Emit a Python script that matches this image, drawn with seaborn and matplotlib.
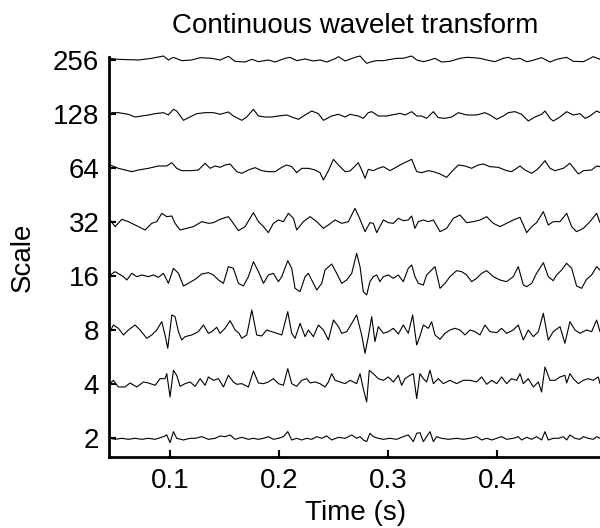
import numpy as np
import pandas as pd
import seaborn as sns
import matplotlib.pyplot as plt

# traces: time in ms, amplitude in arbitrary units
t_s256 = [44.1, 52.6, 71.0, 83.2, 93.9, 98.5, 103.1, 110.7, 119.9, 127.6, 138.3, 145.9, 153.5, 159.7, 168.8, 175.0, 181.1, 190.2, 196.4, 205.5,
          210.1, 216.2, 223.9, 231.5, 237.6, 243.8, 251.4, 254.5, 260.6,
          269.7, 274.3, 280.4, 285.0, 289.6, 295.7, 307.9, 314.0, 321.7, 326.3, 332.4, 338.5, 343.1, 349.2, 356.8, 366.0, 372.1, 378.2, 384.4, 390.5,
          398.1, 405.8, 410.4, 414.9, 421.1, 427.2, 431.8, 440.9, 448.6, 454.7, 463.9, 470.0, 479.2, 483.7, 488.3, 494.5]
a_s256 = [5, 2, 0, 5, 12, 0, 8, -2, 0, 7, 5, 0, 11, -4, -6, 2, -5, 0, -6, 5,
          8, -2, 3, -3, 0, -6, 4, 10, -3,
          8, 12, -10, -5, -2, -2, 5, 5, 12, 0, -5, 0, 5, -6, -4, 5, 8, 7, 5, 0,
          -5, 5, 8, 2, 5, -5, -2, 7, -6, 2, 8, -4, -5, 2, 10, 2]

t_s128 = [46.5, 52.6, 61.8, 67.9, 74.0, 80.2, 86.3, 93.9, 98.5, 103.1, 106.1, 112.3, 116.9, 124.5, 132.1, 139.8, 145.9, 153.5, 158.1, 165.8,
          170.4, 176.5, 181.1, 187.2, 193.3, 199.4, 207.1, 211.6, 217.8, 223.9, 230.0, 236.1, 240.7, 248.3, 254.5, 260.6, 265.2,
          272.7, 277.3, 281.9, 285.0, 291.1, 298.7, 306.4, 311.0, 315.6, 321.7, 326.3, 330.8, 335.4, 341.6, 346.1, 352.3, 358.4, 364.5, 372.1, 381.3,
          388.9, 393.5, 399.7, 405.8, 410.4, 416.5, 422.6, 428.7, 434.8, 440.9, 444.0, 448.6, 451.6, 457.8, 463.9, 470.0, 476.1, 480.7, 485.3, 491.4,
          494.5]
a_s128 = [4, 4, -1, -9, -6, -3, 1, 4, -3, 14, 9, -19, -11, 1, 4, 4, -1, 6, -6, -19,
          -9, 14, -6, -9, -9, -6, -3, -9, -16, -3, 9, 1, -19, -6, -1, -9, -1,
          -6, -13, 4, 7, -6, -6, -1, 2, -3, 7, -6, -6, -13, 7, -11, -13, -9, 4, -3, -3,
          4, -3, -16, -6, 4, 7, -1, -21, -9, -1, 9, -13, -21, -9, 7, -3, 1, -13, -6, 9,
          4]

t_s64 = [45.0, 52.6, 58.7, 64.9, 71.0, 80.2, 89.3, 97.0, 101.6, 106.1, 110.7, 119.9, 126.0, 132.1, 136.7, 141.3, 145.9, 150.5, 155.1, 161.2,
         165.8, 171.9, 178.0, 184.1, 190.2, 196.4, 202.5, 207.1, 211.6, 216.2, 220.8, 226.9, 233.1, 237.6, 240.7, 245.3, 249.9, 254.5, 260.6, 265.2,
         272.7, 275.8, 278.9, 281.9, 286.5, 291.1, 295.7, 301.8, 311.0, 314.0, 321.7, 326.3, 330.8, 337.0, 341.6, 347.7, 353.8, 358.4, 364.5, 370.6,
         376.7, 382.8, 387.4, 393.5, 401.2, 408.8, 413.4, 418.0, 421.1, 425.6, 431.8, 436.3, 439.4, 444.0, 448.6, 453.2, 460.8, 466.9, 474.6, 479.2,
         486.8, 491.4, 494.5]
a_s64 = [9, -1, -6, -11, -6, -1, 6, 6, 16, -1, -8, -8, -6, 14, -1, 6, 2, 9, 12, -11,
         -16, -6, 1, -8, -11, -11, 2, 9, 4, -14, -1, -1, -6, -14, -36, -8, 26, 9, -11, -9,
         16, -6, -31, -4, -8, -1, 4, -8, 9, 14, 26, -11, -14, -8, -11, -18, -28, -11, 9, 6,
         -1, 9, 12, 4, 2, -8, -11, -1, 6, -6, -16, -6, 4, 22, -1, -8, -1, 14, -18, -8,
         -6, 6, 4]

t_s32 = [45.0, 49.6, 55.7, 61.8, 71.0, 77.1, 83.2, 87.8, 92.4, 97.0, 101.6, 104.6, 109.2, 115.3, 121.4, 129.1, 135.2, 139.8, 145.9, 153.5,
         158.1, 162.7, 168.8, 176.5, 181.1, 185.7, 190.2, 194.8, 199.4, 204.0, 208.6, 213.2, 216.2, 222.3, 228.5, 234.6, 240.7, 245.3, 251.4, 257.5,
         263.6,
         269.7, 274.3, 278.9, 283.4, 286.5, 289.6, 295.7, 300.3, 304.9, 309.4, 314.0, 318.6, 321.7, 324.7, 327.8, 332.4, 337.0, 341.6, 347.7, 353.8,
         359.9, 366.0, 372.1, 378.2, 384.4, 390.5, 396.6, 402.7, 408.8, 414.9, 421.1, 427.2, 431.8, 436.3, 442.5, 447.0, 451.6, 457.8, 463.9, 468.5,
         473.0, 479.2, 485.3, 491.4, 494.5]
a_s32 = [6, -14, 8, 1, -14, -24, -4, 1, 26, 16, 18, -4, -24, -19, -14, 1, -4, -2, 8, 16,
         -4, -26, -14, 28, 1, -14, -32, -4, 6, 1, 26, 11, -24, 1, 16, 1, -19, -9, 6, -4,
         1,
         41, 8, -29, -2, -4, -32, 6, -2, -4, 11, 4, 6, 18, -19, 1, 6, 1, 6, -29, -19,
         11, 21, -2, 1, 6, 16, -4, -14, -4, 6, 14, -32, -14, -2, 31, -9, 1, 1, 26, -14,
         -29, -19, 1, 26, -2]

t_s16 = [45.0, 49.6, 57.2, 60.3, 64.9, 69.5, 74.0, 80.2, 84.7, 89.3, 93.9, 98.5, 103.1, 107.7, 112.3, 116.9, 123.0, 129.1, 135.2, 139.8,
         144.4, 149.0, 153.5, 158.1, 162.7, 167.3, 171.9, 176.5, 181.1, 185.7, 190.2, 194.8, 199.4, 202.5, 208.0, 211.6, 214.7, 219.3, 223.9, 226.9,
         231.5, 234.6, 239.2, 242.2, 248.3, 252.9, 257.5, 262.1, 266.7,
         271.2, 274.3, 277.3, 280.4, 283.4, 286.5, 289.6, 292.6, 295.7, 300.3, 304.9, 309.4, 314.0, 318.6, 321.7, 324.7, 327.8, 332.4, 335.4, 340.0,
         343.1, 347.7, 352.3, 356.8, 363.0, 367.5, 372.1, 376.7, 381.3, 385.9, 390.5, 396.6, 402.7, 408.8, 414.9, 419.5, 424.1, 427.2, 431.8, 436.3,
         442.5, 447.0, 451.6, 454.7, 459.3, 463.9, 468.5, 473.0, 477.6, 482.2, 486.8, 491.4, 494.5]
a_s16 = [3, 13, -2, -12, 8, -2, 3, -2, 3, -4, 8, -22, 23, 8, -30, -22, -10, 6, 10, 3,
         -12, -22, 28, 23, -22, -30, -2, 43, 13, -22, 3, 8, -17, -2, 46, 23, -37, -47, -2, 8,
         -22, -42, -22, 18, 36, 8, -22, -12, 8,
         68, 28, -47, -57, -17, -2, 3, -17, -2, 3, -7, 3, -17, 23, 33, -2, -22, -27, 3, 18,
         28, -37, -22, -2, 16, 13, 3, -17, -7, 8, 16, -2, -12, -17, -2, 28, -27, -32, -22, 8,
         40, -2, -14, 3, 18, 38, 23, -30, -37, -10, 3, 28, 18]

t_s8 = [45.0, 48.0, 52.6, 57.2, 61.8, 67.9, 72.5, 78.6, 83.2, 87.8, 92.4, 95.4, 97.9, 101.6, 104.6, 107.7, 110.7, 113.8, 119.9, 126.0,
        130.6, 135.2, 138.3, 142.8, 145.9, 150.5, 155.1, 159.7, 163.3, 165.8, 170.4, 175.0, 179.5, 184.1, 188.7, 193.3, 197.9, 202.5, 208.0, 211.6,
        214.7, 219.3, 223.9, 226.9, 231.5, 236.1, 240.7, 245.3, 249.9, 254.5, 257.5, 262.1, 266.7,
        271.2, 275.8, 278.9, 281.9, 285.0, 288.0, 291.1, 295.7, 300.3, 304.9, 309.4, 314.0, 318.6, 322.6, 326.3, 329.3, 332.4, 337.0, 340.0, 343.1,
        347.7, 352.3, 356.8, 361.4, 366.0, 370.6, 375.2, 379.8, 384.4, 388.9, 393.5, 399.7, 404.2, 408.8, 414.9, 419.5, 424.1, 428.7, 433.3, 437.9,
        442.5, 447.0, 451.6, 457.8, 462.3, 466.9, 471.5, 476.1, 482.2, 486.8, 491.4, 494.5]
a_s8 = [-5, 15, 5, -15, 0, 15, 0, -25, -15, 0, 25, -15, -55, 45, 40, -5, -30, -20, -15, -5,
        15, -10, -5, 8, -10, 5, 28, 0, -10, -25, -15, 60, -15, -18, 0, -5, -10, -15, 55, -10,
        -25, 20, -20, 0, -20, 15, 0, -30, 30, 10, -10, -5, 20,
        45, -15, -70, -20, 40, -35, 10, -10, -5, 5, -12, 15, -10, 45, -45, -18, 15, 5, 25, -15,
        -28, -10, 0, 5, 0, -15, 0, -5, -15, 15, -5, -8, 5, -10, 0, 15, -30, 0, -20, -5,
        50, -30, -5, 10, -40, 25, 0, -10, 0, -5, 30, -5]

t_s4 = [45.0, 48.0, 52.6, 58.7, 63.3, 69.5, 75.6, 80.2, 86.3, 90.9, 95.4, 97.0, 100.0, 103.1, 106.1, 109.2, 113.8, 118.4, 123.0, 127.6,
        132.1, 135.2, 139.8, 144.4, 149.0, 153.5, 158.1, 161.2, 165.8, 171.9, 176.5, 181.1, 185.7, 190.2, 194.8, 199.4, 204.0, 208.0, 211.6, 216.2,
        220.8, 225.4, 228.5, 233.1, 237.6, 242.2, 245.3, 248.3, 251.4, 256.0, 260.6, 265.2,
        271.2, 274.3, 277.3, 280.4, 282.8, 286.5, 291.1, 295.7, 300.3, 304.9, 309.4, 312.5, 315.6, 320.1, 323.2, 326.3, 329.3, 332.4, 335.4, 338.5,
        341.6, 346.1, 350.7, 356.8, 363.0, 369.1, 375.2, 381.3, 385.9, 390.5, 395.1, 399.7, 404.2, 408.8, 413.4, 418.0, 421.1, 424.1, 428.7, 433.3,
        437.9, 440.9, 444.0, 448.6, 453.2, 457.8, 462.3, 463.9, 466.9, 470.0, 474.6, 479.2, 483.7, 488.3, 492.9, 494.5]
a_s4 = [1, 11, -9, -9, 3, -9, 6, 3, -4, 16, 16, 31, -39, 41, 26, -7, 1, 6, -7, 16,
        -4, 21, 11, 16, -9, 26, 6, -1, 1, -9, 39, 3, 1, 6, 16, 1, -4, 46, 1, -7,
        11, 16, 3, 6, 1, -9, 6, 31, 11, 6, 1, 11,
        1, 31, -14, -54, 41, 31, 16, 11, 21, 6, 26, -4, 16, 26, 31, -44, 31, 16, 6, 41,
        1, 16, 1, 11, 1, 11, 11, 6, 21, -1, 11, 1, 21, 1, 16, 11, 31, 1, 16, -9,
        6, -24, 51, 11, 11, 21, 26, 3, 31, 16, 1, 11, 16, 11, 21, 1]

t_s2 = [45.0, 49.6, 55.7, 61.8, 67.9, 74.0, 80.2, 86.3, 93.9, 97.0, 100.0, 103.1, 106.1, 112.3, 118.4, 123.0, 129.1, 135.2, 141.3, 145.9,
        150.5, 155.1, 159.7, 165.8, 171.9, 176.5, 181.1, 185.7, 190.2, 194.8, 199.4, 204.0, 208.0, 211.6, 216.2, 220.8, 225.4, 230.0, 234.6, 239.2,
        243.8, 248.3, 254.5, 260.6, 266.7,
        271.2, 274.3, 277.3, 280.4, 283.4, 286.5, 291.1, 295.7, 301.8, 307.9, 314.0, 318.6, 323.2, 326.3, 329.3, 332.4, 335.4, 338.5, 341.6, 344.6,
        349.2, 355.3, 363.0, 369.1, 375.2, 381.3, 385.9, 390.5, 395.1, 399.7, 404.2, 408.8, 414.9, 419.5, 422.6, 427.2, 431.8, 436.3, 440.9, 444.0,
        447.0, 451.6, 456.3, 460.8, 463.9, 466.9, 471.5, 476.1, 479.2, 483.7, 488.3, 491.4, 494.5]
a_s2 = [-1, -4, -1, -4, -1, -4, -1, -4, 4, 9, -14, 19, -1, -6, -1, -1, 4, -4, -1, 6,
        4, 9, -4, 2, -4, -1, -4, -1, 4, -4, -1, 4, 19, -6, -1, -6, -1, -4, 4, -1,
        6, -6, 2, -1, 9,
        -1, 4, -6, -11, 14, 4, -1, -4, -1, -4, 4, 9, -11, 14, 16, -11, 4, 19, -11, 4,
        -1, -4, -1, -4, -1, 4, -6, -1, -6, -1, 4, -4, -1, 4, -6, 2, -4, 4, -6, 19,
        -6, -1, -1, 4, -6, 9, -1, -4, 4, -1, -4, 4, -1]

scales = [2, 4, 8, 16, 32, 64, 128, 256]
times = [t_s2, t_s4, t_s8, t_s16, t_s32, t_s64, t_s128, t_s256]
amps = [a_s2, a_s4, a_s8, a_s16, a_s32, a_s64, a_s128, a_s256]

gain = 1 / 162.0

frames = []
for sc, t, a in zip(scales, times, amps):
    frames.append(pd.DataFrame({
        'time': np.array(t) / 1000.0,
        'level': np.log2(sc) + np.array(a) * gain,
        'scale': sc,
    }))
df = pd.concat(frames, ignore_index=True)

sns.set_style('ticks')
plt.rcParams['font.family'] = ['Liberation Sans', 'DejaVu Sans']
plt.rcParams['text.color'] = 'black'
plt.rcParams['axes.labelcolor'] = 'black'

fig = plt.figure(figsize=(6, 5.28), dpi=100)
ax = fig.add_axes([0.1817, 0.1345, 0.8216, 0.7576])

sns.lineplot(data=df, x='time', y='level', units='scale', estimator=None,
             sort=False, color='black', linewidth=0.8, legend=False, ax=ax)
for line in ax.lines:
    line.set_clip_on(False)
    line.set_solid_joinstyle('round')

ax.set_xlim(0.044, 0.4963)
ax.set_ylim(0.648, 8.056)
ax.set_xticks([0.1, 0.2, 0.3, 0.4])
ax.set_xticklabels(['0.1', '0.2', '0.3', '0.4'])
ax.set_yticks(np.log2(scales))
ax.set_yticklabels([str(s) for s in scales])
ax.tick_params(direction='in', length=5, width=1.5, labelsize=20,
               colors='black', labelcolor='black')
ax.tick_params(axis='x', pad=8)
ax.tick_params(axis='y', pad=7)

sns.despine(ax=ax)
for side in ['left', 'bottom']:
    ax.spines[side].set_linewidth(2)
    ax.spines[side].set_color('black')

ax.set_title('Continuous wavelet transform', fontsize=20, pad=17, color='black')
ax.set_xlabel('Time (s)', fontsize=20, labelpad=4, color='black')
ax.set_ylabel('Scale', fontsize=20, labelpad=12, color='black')

fig.savefig('out.png', dpi=100)
